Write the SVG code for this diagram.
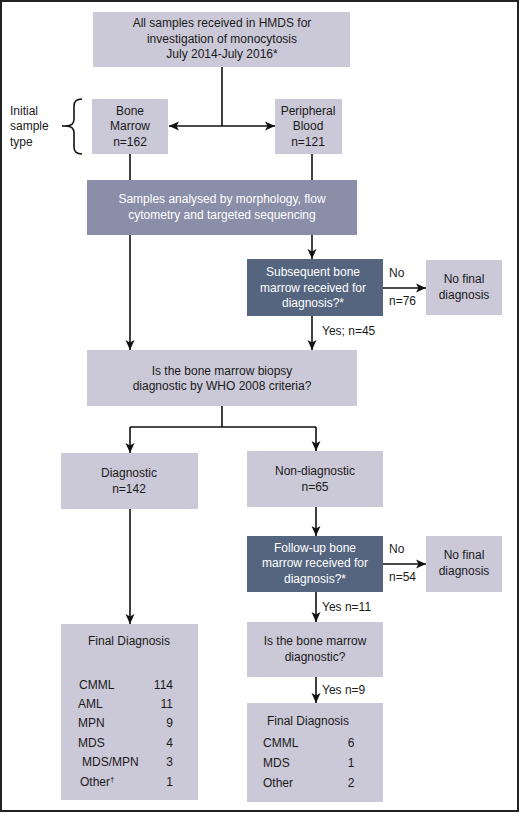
<svg xmlns="http://www.w3.org/2000/svg" width="520" height="814" viewBox="0 0 520 814">
<defs>
<marker id="ah" viewBox="0 0 10 10" refX="10" refY="5" markerWidth="10" markerHeight="10" markerUnits="userSpaceOnUse" orient="auto">
<path d="M0,0.5 L10,5 L0,9.5 L2.5,5 Z" fill="#111"/>
</marker>
<style>
text{font-family:"Liberation Sans",Arial,sans-serif;font-size:12px;fill:#1a1a1a}
.c{text-anchor:middle}
.e{text-anchor:end}
.w{fill:#ffffff}
.lt{fill:#cbc8d8}
.md{fill:#8a8ea8}
.dk{fill:#55657f}
.ln{stroke:#111;stroke-width:1.6;fill:none}
.ar{stroke:#111;stroke-width:1.6;fill:none;marker-end:url(#ah)}
</style>
</defs>
<rect x="0" y="0" width="520" height="814" fill="#fff"/>
<rect x="1" y="1" width="517" height="810" fill="none" stroke="#222" stroke-width="2"/>

<g id="connectors">
<path class="ln" d="M222,67 V126"/>
<path class="ar" d="M222,126 H169"/>
<path class="ar" d="M222,126 H275"/>
<path class="ln" d="M130,154 V180"/>
<path class="ln" d="M312,154 V180"/>
<path class="ar" d="M130,235 V350"/>
<path class="ar" d="M312,235 V259"/>
<path class="ar" d="M383,288 H426"/>
<path class="ar" d="M312,316 V350"/>
<path class="ln" d="M222,406 V427 M130,427 H316"/>
<path class="ar" d="M130,427 V453"/>
<path class="ar" d="M316,427 V451"/>
<path class="ar" d="M316,507 V536"/>
<path class="ar" d="M383,564 H426"/>
<path class="ar" d="M316,592 V622"/>
<path class="ar" d="M316,677 V703"/>
<path class="ar" d="M130,509 V624"/>
<path class="ln" d="M82,99 Q74,99 74,106 V119 Q74,126 66,126 Q74,126 74,133 V147 Q74,154 82,154"/>
<path class="ln" d="M62,126 H67"/>
</g>
<g id="connector-labels">
<text x="389" y="277">No</text>
<text x="389" y="305">n=76</text>
<text x="322" y="335">Yes; n=45</text>
<text x="389" y="553">No</text>
<text x="389" y="581">n=54</text>
<text x="322" y="611">Yes n=11</text>
<text x="322" y="694">Yes n=9</text>
</g>

<g id="label-initial">
<text x="10" y="115">Initial</text>
<text x="10" y="130">sample</text>
<text x="10" y="146">type</text>
</g>

<g id="n-all">
<rect class="lt" x="93" y="12" width="257" height="55"/>
<text class="c" x="222" y="27">All samples received in HMDS for</text>
<text class="c" x="222" y="43">investigation of monocytosis</text>
<text class="c" x="222" y="58">July 2014-July 2016*</text>
</g>
<g id="n-bm">
<rect class="lt" x="92" y="99" width="76" height="55"/>
<text class="c" x="130" y="115">Bone</text>
<text class="c" x="130" y="130">Marrow</text>
<text class="c" x="130" y="146">n=162</text>
</g>
<g id="n-pb">
<rect class="lt" x="275" y="99" width="67" height="55"/>
<text class="c" x="308" y="115">Peripheral</text>
<text class="c" x="308" y="130">Blood</text>
<text class="c" x="308" y="146">n=121</text>
</g>
<g id="n-analysed">
<rect class="md" x="87" y="180" width="270" height="55"/>
<text class="c w" x="222" y="203">Samples analysed by morphology, flow</text>
<text class="c w" x="222" y="219">cytometry and targeted sequencing</text>
</g>
<g id="n-subsequent">
<rect class="dk" x="247" y="259" width="136" height="57"/>
<text class="c w" x="313" y="276">Subsequent bone</text>
<text class="c w" x="313" y="292">marrow received for</text>
<text class="c w" x="313" y="307">diagnosis?*</text>
</g>
<g id="n-nofinal1">
<rect class="lt" x="426" y="260" width="76" height="55"/>
<text class="c" x="464" y="283">No final</text>
<text class="c" x="464" y="299">diagnosis</text>
</g>
<g id="n-isbiopsy">
<rect class="lt" x="87" y="350" width="270" height="56"/>
<text class="c" x="222" y="375">Is the bone marrow biopsy</text>
<text class="c" x="222" y="390">diagnostic by WHO 2008 criteria?</text>
</g>
<g id="n-diagnostic">
<rect class="lt" x="61" y="453" width="137" height="56"/>
<text class="c" x="129" y="477">Diagnostic</text>
<text class="c" x="129" y="493">n=142</text>
</g>
<g id="n-nondiag">
<rect class="lt" x="247" y="451" width="136" height="56"/>
<text class="c" x="315" y="475">Non-diagnostic</text>
<text class="c" x="315" y="491">n=65</text>
</g>
<g id="n-followup">
<rect class="dk" x="247" y="536" width="136" height="56"/>
<text class="c w" x="315" y="552">Follow-up bone</text>
<text class="c w" x="315" y="567">marrow received for</text>
<text class="c w" x="315" y="583">diagnosis?*</text>
</g>
<g id="n-nofinal2">
<rect class="lt" x="426" y="536" width="76" height="56"/>
<text class="c" x="464" y="559">No final</text>
<text class="c" x="464" y="575">diagnosis</text>
</g>
<g id="n-isdiag">
<rect class="lt" x="247" y="622" width="136" height="55"/>
<text class="c" x="315" y="645">Is the bone marrow</text>
<text class="c" x="315" y="661">diagnostic?</text>
</g>
<g id="n-final-left">
<rect class="lt" x="61" y="624" width="137" height="176"/>
<text class="c" x="129" y="645">Final Diagnosis</text>
<text x="79" y="689">CMML</text><text class="e" x="173" y="689">114</text>
<text x="78" y="708">AML</text><text class="e" x="173" y="708">11</text>
<text x="78" y="727">MPN</text><text class="e" x="173" y="727">9</text>
<text x="78" y="747">MDS</text><text class="e" x="173" y="747">4</text>
<text x="82" y="766">MDS/MPN</text><text class="e" x="173" y="766">3</text>
<text x="80" y="786">Other<tspan font-size="8" dy="-4">†</tspan></text><text class="e" x="173" y="786">1</text>
</g>
<g id="n-final-right">
<rect class="lt" x="247" y="703" width="136" height="99"/>
<text class="c" x="308" y="725">Final Diagnosis</text>
<text x="263" y="747">CMML</text><text class="c" x="351" y="747">6</text>
<text x="263" y="767">MDS</text><text class="c" x="351" y="767">1</text>
<text x="263" y="787">Other</text><text class="c" x="351" y="787">2</text>
</g>
</svg>
